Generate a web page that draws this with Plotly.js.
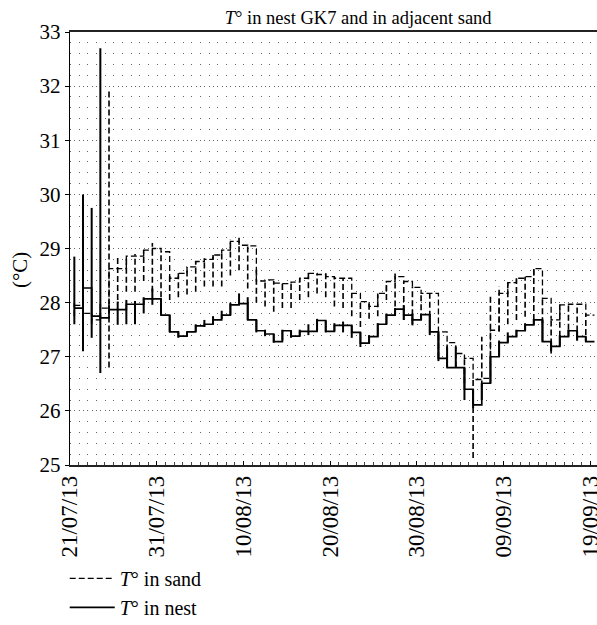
<!DOCTYPE html>
<html>
<head>
<meta charset="utf-8">
<script src="https://cdn.plot.ly/plotly-3.0.1.min.js"></script>
<style>html,body{margin:0;padding:0;background:#fff;}#chart{width:597px;height:625px;}</style>
</head>
<body>
<div id="chart"></div>
<script>
// Day index 0 = 21/07/2013 (values at noon of each day)
const tickLabels = ["21/07/13","31/07/13","10/08/13","20/08/13","30/08/13","09/09/13","19/09/13"];

// T° in nest: daily level, min, max
const nestLevel = [27.9,28.27,27.75,27.72,27.87,27.87,27.97,27.97,28.07,28.07,
  27.77,27.46,27.38,27.46,27.57,27.6,27.68,27.77,27.96,27.98,
  27.68,27.48,27.42,27.28,27.48,27.38,27.47,27.47,27.67,27.47,
  27.58,27.58,27.45,27.25,27.37,27.6,27.77,27.88,27.77,27.68,
  27.78,27.46,26.97,26.8,26.8,26.4,26.11,26.51,27.0,27.26,
  27.37,27.48,27.59,27.68,27.28,27.19,27.37,27.48,27.37,27.28,27.28];
const nestMin = [27.6,27.1,27.35,26.7,27.8,27.59,27.6,27.6,27.8,27.96,
  27.77,27.46,27.35,27.38,27.46,27.55,27.6,27.7,27.77,27.96,
  27.68,27.45,27.38,27.26,27.3,27.35,27.38,27.4,27.47,27.45,
  27.47,27.45,27.35,27.18,27.25,27.37,27.6,27.77,27.68,27.58,
  27.68,27.4,26.92,26.8,26.8,26.2,26.05,26.2,26.51,27.0,
  27.26,27.37,27.48,27.59,27.28,27.1,27.19,27.37,27.3,27.28,27.28];
const nestMax = [28.85,30.0,29.75,32.7,27.95,28.02,28.05,28.03,28.1,28.26,
  28.07,27.77,27.46,27.46,27.6,27.68,27.75,27.85,28.0,28.17,
  28.1,27.68,27.5,27.42,27.5,27.48,27.5,27.6,27.7,27.67,
  27.62,27.65,27.58,27.45,27.4,27.62,27.8,27.9,27.95,27.8,
  27.8,27.78,27.46,27.19,27.19,26.8,26.4,26.51,27.0,27.3,
  27.45,27.5,27.62,27.7,27.68,27.28,27.4,27.5,27.48,27.37,27.28];

// T° in sand: daily level, min, max
const sandLevel = [27.95,27.8,27.68,27.9,28.63,28.63,28.86,28.86,28.97,29.0,
  28.94,28.45,28.54,28.66,28.76,28.8,28.88,28.97,29.13,29.06,
  29.05,28.4,28.42,28.36,28.35,28.38,28.45,28.54,28.52,28.48,
  28.45,28.45,28.17,28.02,27.93,28.17,28.39,28.48,28.39,28.28,
  28.17,28.17,27.46,27.26,27.06,26.97,26.58,26.6,27.49,28.17,
  28.37,28.45,28.48,28.63,28.08,27.68,27.96,27.97,27.97,27.77,27.77];
const sandMin = [27.75,27.7,27.6,27.7,26.8,28.05,28.2,28.2,28.4,28.2,
  28.1,28.05,28.1,28.15,28.2,28.3,28.3,28.3,28.5,28.6,
  28.26,28.0,27.93,27.83,27.9,27.9,28.05,28.1,28.17,28.1,
  27.93,27.9,27.75,27.55,27.7,27.75,28.05,27.93,27.68,27.6,
  27.86,27.74,26.97,26.95,26.8,26.51,25.13,26.45,27.0,27.46,
  27.6,27.68,27.74,27.68,27.62,27.06,27.37,27.5,27.3,27.4,27.77];
const sandMax = [28.0,28.0,27.8,28.0,31.9,28.85,28.86,28.9,28.97,29.1,
  28.94,28.5,28.55,28.66,28.77,28.82,28.88,28.97,29.17,29.2,
  29.07,28.63,28.42,28.4,28.37,28.4,28.45,28.56,28.54,28.6,
  28.48,28.45,28.17,28.02,27.98,28.17,28.39,28.57,28.39,28.3,
  28.17,28.17,27.46,27.26,27.1,26.97,26.58,27.37,28.14,28.3,
  28.37,28.45,28.48,28.63,28.08,27.74,27.96,27.97,27.97,27.8,27.77];

function dayDate(k, hour){
  const d = new Date(Date.UTC(2013,6,21+k,hour,0,0));
  return d.toISOString().slice(0,16).replace("T"," ");
}
const days = nestLevel.map((_,k)=>dayDate(k,12));

function rangeSegments(mins, maxs){
  const xs=[], ys=[];
  for(let k=0;k<mins.length;k++){
    xs.push(days[k],days[k],null);
    ys.push(mins[k],maxs[k],null);
  }
  return {xs, ys};
}
const sandSeg = rangeSegments(sandMin, sandMax);
const nestSeg = rangeSegments(nestMin, nestMax);

const serif = "Liberation Serif";

const traces = [
  {x: days, y: sandLevel, type:"scatter", mode:"lines", name:"<i>T</i>° in sand",
   line:{color:"#000", width:1.3, dash:"6px,3px", shape:"hv"}},
  {x: days, y: nestLevel, type:"scatter", mode:"lines", name:"<i>T</i>° in nest",
   line:{color:"#000", width:1.7, shape:"hv"}},
  {x: sandSeg.xs, y: sandSeg.ys, type:"scatter", mode:"lines", showlegend:false,
   line:{color:"#000", width:1.6, dash:"6px,3px"}, connectgaps:false, hoverinfo:"skip"},
  {x: nestSeg.xs, y: nestSeg.ys, type:"scatter", mode:"lines", showlegend:false,
   line:{color:"#000", width:2}, connectgaps:false, hoverinfo:"skip"}
];

const layout = {
  width:597, height:625,
  margin:{l:70, r:0, t:32, b:160, autoexpand:false},
  paper_bgcolor:"#fff", plot_bgcolor:"#fff",
  font:{family:serif, color:"#000", size:18},
  title:{text:"<i>T</i>° in nest GK7 and in adjacent sand", font:{family:serif, size:18.5, color:"#000"},
         x:0.6, xref:"container", xanchor:"center", y:0.982, yref:"container", yanchor:"top"},
  showlegend:true,
  legend:{x:-0.01, xref:"paper", y:-0.217, yref:"paper", yanchor:"top", xanchor:"left",
          orientation:"v", traceorder:"normal", font:{family:serif, size:20, color:"#000"},
          bgcolor:"rgba(0,0,0,0)", itemwidth:45, tracegroupgap:0},
  xaxis:{type:"date", automargin:false,
    range:["2013-07-21 00:00","2013-09-19 19:00"],
    tickmode:"array",
    tickvals: tickLabels.map((t,i)=>dayDate(10*i,0)),
    ticktext: tickLabels,
    ticklabeloverflow:"allow",
    tickangle:-90, tickfont:{family:serif, size:23, color:"#000"},
    ticks:"inside", ticklen:4, tickcolor:"#000",
    minor:{dtick:86400000, tick0:"2013-07-21", ticks:"inside", ticklen:3, tickcolor:"#444", showgrid:false},
    showgrid:false, zeroline:false,
    showline:true, linecolor:"#222", linewidth:1.6, mirror:true},
  yaxis:{range:[25,33], dtick:1, tick0:25, automargin:false,
    tickfont:{family:serif, size:21, color:"#000"},
    ticks:"outside", ticklen:4, tickcolor:"#000",
    showgrid:true, gridcolor:"#666", gridwidth:1, griddash:"1px,3.33px",
    minor:{dtick:0.2, showgrid:true, gridcolor:"#666", gridwidth:1, griddash:"1px,7.67px"},
    zeroline:false, showline:true, linecolor:"#000", linewidth:1.2, mirror:false},
  annotations:[{text:"(°C)", xref:"paper", yref:"paper", x:-0.095, y:0.45,
    xanchor:"center", yanchor:"middle", textangle:-90, showarrow:false,
    font:{family:serif, size:21, color:"#000"}}]
};

Plotly.newPlot("chart", traces, layout, {displayModeBar:false, staticPlot:true});
</script>
</body>
</html>
